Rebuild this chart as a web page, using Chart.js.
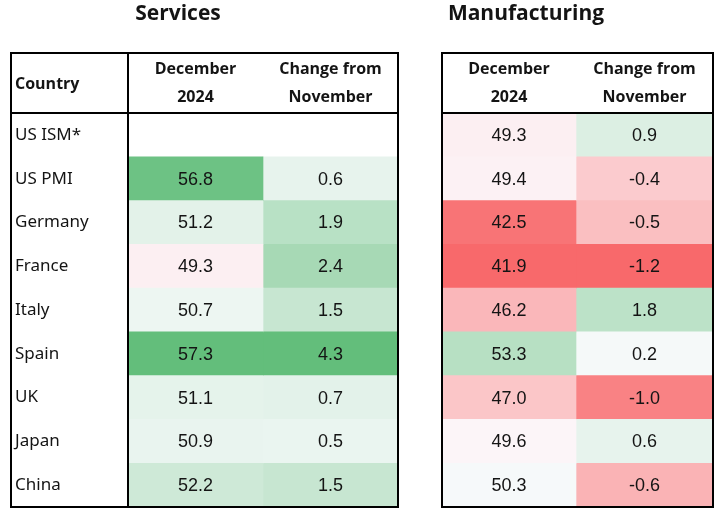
<!DOCTYPE html>
<html>
<head>
<meta charset="utf-8">
<script src="https://cdn.jsdelivr.net/npm/chart.js@4.4.1/dist/chart.umd.min.js"></script>
<style>
  html, body { margin: 0; padding: 0; background: #fff; }
  #wrap { width: 725px; height: 519px; }
</style>
</head>
<body>
<div id="wrap"><canvas id="pmi" width="725" height="519"></canvas></div>
<script>
const countries = ['US ISM*', 'US PMI', 'Germany', 'France', 'Italy', 'Spain', 'UK', 'Japan', 'China'];
const servicesDec = [null, 56.8, 51.2, 49.3, 50.7, 57.3, 51.1, 50.9, 52.2];
const servicesChange = [null, 0.6, 1.9, 2.4, 1.5, 4.3, 0.7, 0.5, 1.5];
const manufacturingDec = [49.3, 49.4, 42.5, 41.9, 46.2, 53.3, 47.0, 49.6, 50.3];
const manufacturingChange = [0.9, -0.4, -0.5, -1.2, 1.8, 0.2, -1.0, 0.6, -0.6];
const columnHeaders = [['December', '2024'], ['Change from', 'November']];
const tableTitles = ['Services', 'Manufacturing'];

// layout: column edges in x-axis units
const COL = {
  country: [0, 117],
  svcDec: [117, 252],
  svcChg: [252, 387],
  mfgDec: [431, 565],
  mfgChg: [565, 702]
};

const RED = [248, 105, 107], WHITE = [252, 252, 255], GREEN = [99, 190, 123];

function mix(a, b, t) {
  return 'rgb(' + a.map((c, i) => Math.round(c + (b[i] - c) * t)).join(',') + ')';
}

// excel style 3-colour scale: min red, midpoint white, max green
function colorScale(values, mid) {
  const nums = values.filter(v => v !== null);
  const lo = Math.min(...nums), hi = Math.max(...nums);
  return v => {
    if (v === null) return 'rgba(0,0,0,0)';
    if (v >= mid) return mix(WHITE, GREEN, (v - mid) / (hi - mid));
    return mix(WHITE, RED, (mid - v) / (mid - lo));
  };
}

const levelColor = colorScale(servicesDec.concat(manufacturingDec), 50);
const changeColor = colorScale(servicesChange.concat(manufacturingChange), 0);

function cellDataset(values, edges, colorFn) {
  return {
    data: values.map(v => (v === null ? null : edges.slice())),
    values: values,
    backgroundColor: values.map(colorFn),
    borderWidth: 0,
    grouped: false,
    barPercentage: 1,
    categoryPercentage: 1
  };
}

const tablePlugin = {
  id: 'tablePlugin',
  afterDatasetsDraw(chart) {
    const { ctx, chartArea, scales: { x, y } } = chart;
    const px = v => x.getPixelForValue(v);
    const top = 53, headBottom = chartArea.top, bottom = chartArea.bottom;

    ctx.save();
    ctx.fillStyle = '#141414';
    ctx.textBaseline = 'middle';

    // cell values
    ctx.textAlign = 'center';
    ctx.font = '18px "Liberation Sans", Arial, sans-serif';
    chart.data.datasets.forEach((ds, di) => {
      chart.getDatasetMeta(di).data.forEach((bar, i) => {
        const v = ds.values[i];
        if (v === null) return;
        const p = bar.getProps(['x', 'base', 'y']);
        ctx.fillText(v.toFixed(1), (p.x + p.base) / 2, p.y + 1);
      });
    });

    // country labels
    ctx.textAlign = 'left';
    ctx.font = '17px "Noto Sans", sans-serif';
    countries.forEach((c, i) => ctx.fillText(c, px(COL.country[0]) + 4, y.getPixelForValue(i)));

    // headers
    ctx.font = 'bold 16px "Open Sans", sans-serif';
    ctx.fillText('Country', px(COL.country[0]) + 4, 84);
    ctx.textAlign = 'center';
    [[COL.svcDec, COL.svcChg], [COL.mfgDec, COL.mfgChg]].forEach(pair => {
      pair.forEach((edges, k) => {
        const cx = (px(edges[0]) + px(edges[1])) / 2;
        ctx.fillText(columnHeaders[k][0], cx, 69);
        ctx.fillText(columnHeaders[k][1], cx, 97);
      });
    });

    // titles
    ctx.font = 'bold 21px "Open Sans", sans-serif';
    ctx.fillText(tableTitles[0], 178, 14);
    ctx.fillText(tableTitles[1], 526, 14);

    // borders
    ctx.strokeStyle = '#000';
    ctx.lineWidth = 2;
    const boxes = [[COL.country[0], COL.svcChg[1]], [COL.mfgDec[0], COL.mfgChg[1]]];
    boxes.forEach(([a, b]) => {
      ctx.strokeRect(px(a), top, px(b) - px(a), bottom - top);
      ctx.beginPath();
      ctx.moveTo(px(a), headBottom);
      ctx.lineTo(px(b), headBottom);
      ctx.stroke();
    });
    ctx.beginPath();
    ctx.moveTo(px(COL.country[1]), top);
    ctx.lineTo(px(COL.country[1]), bottom);
    ctx.stroke();
    ctx.restore();
  }
};

new Chart(document.getElementById('pmi'), {
  type: 'bar',
  data: {
    labels: countries,
    datasets: [
      cellDataset(servicesDec, COL.svcDec, levelColor),
      cellDataset(servicesChange, COL.svcChg, changeColor),
      cellDataset(manufacturingDec, COL.mfgDec, levelColor),
      cellDataset(manufacturingChange, COL.mfgChg, changeColor)
    ]
  },
  options: {
    indexAxis: 'y',
    responsive: false,
    animation: false,
    layout: { padding: { left: 11, right: 12, top: 113, bottom: 12 } },
    scales: {
      x: { type: 'linear', min: 0, max: 702, display: false },
      y: { display: false }
    },
    plugins: {
      legend: { display: false },
      tooltip: { enabled: false }
    }
  },
  plugins: [tablePlugin]
});
</script>
</body>
</html>
